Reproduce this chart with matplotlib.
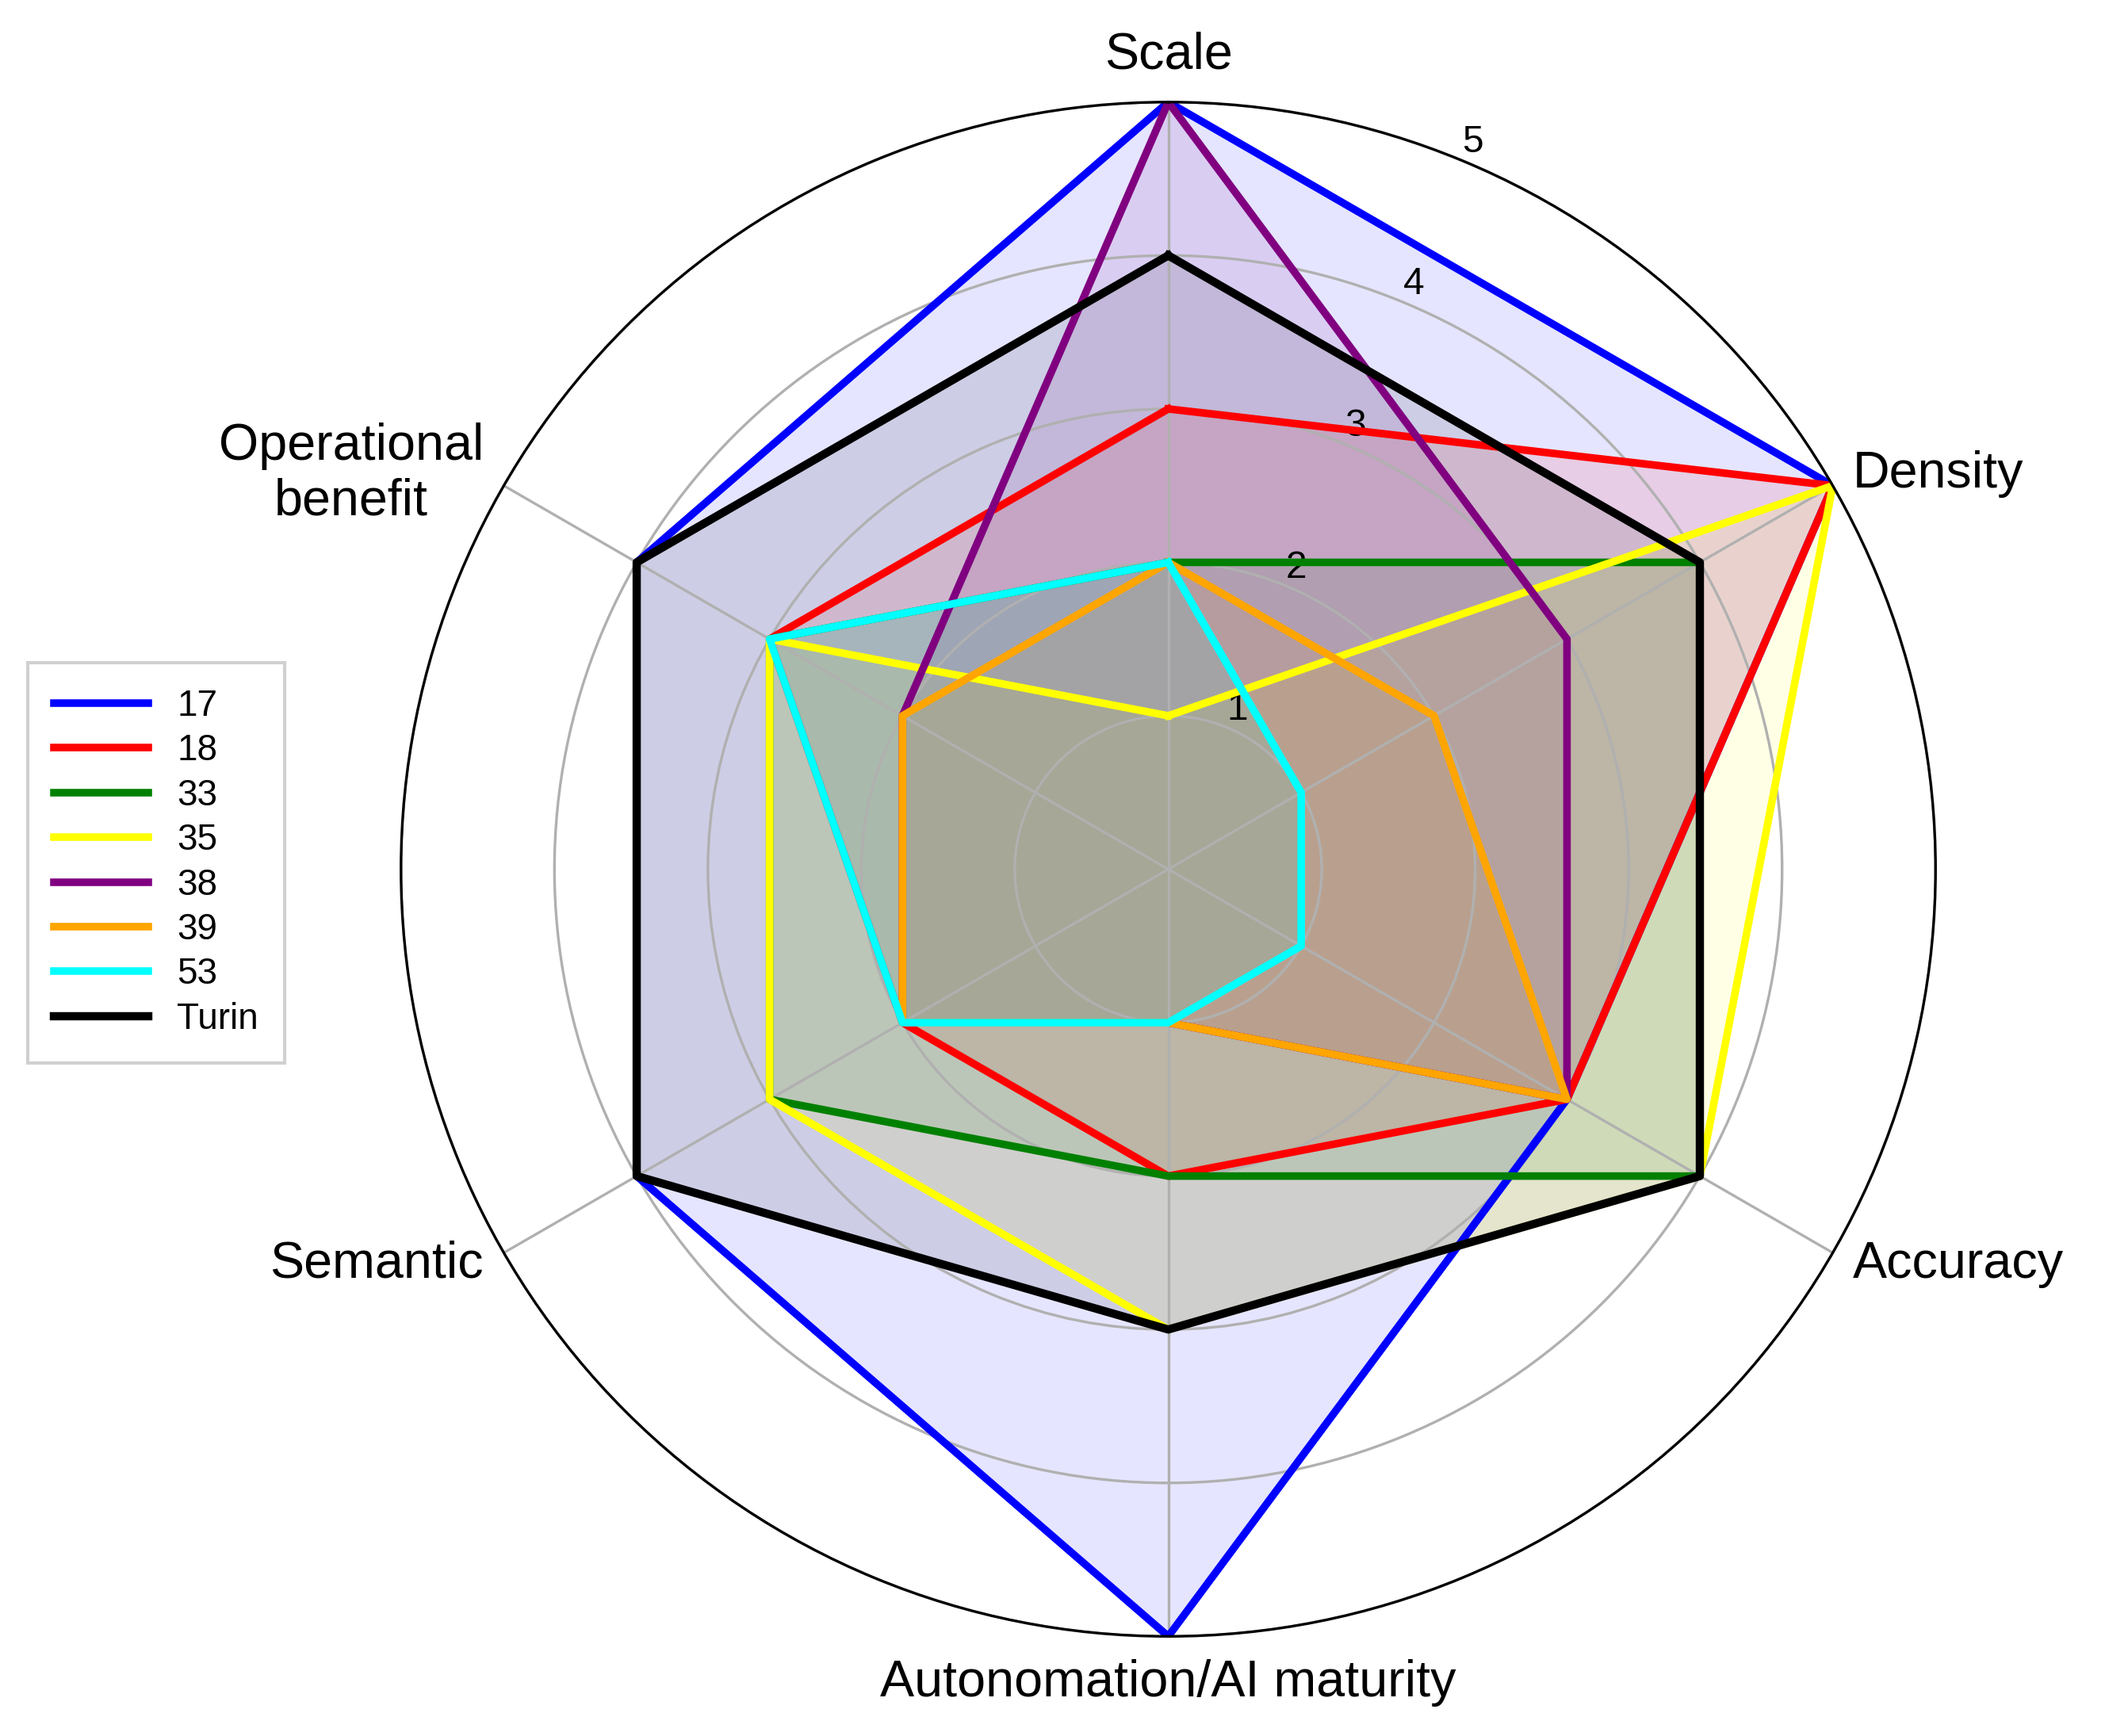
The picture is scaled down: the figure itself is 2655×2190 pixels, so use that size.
import numpy as np
import matplotlib.pyplot as plt

plt.rcParams['font.family'] = ['Liberation Sans', 'DejaVu Sans']

# axes of the radar, clockwise from the top
CATEGORIES = ['Scale', 'Density', 'Accuracy', 'Autonomation/AI maturity',
              'Semantic', 'Operational\nbenefit']

NAMES = ['17', '18', '33', '35', '38', '39', '53', 'Turin']
COLORS = ['blue', 'red', 'green', 'yellow', 'purple', 'orange', 'cyan', 'black']

# scores per case (same order as CATEGORIES)
s17 = [5, 5, 3, 5, 4, 4]
s18 = [3, 5, 3, 2, 2, 3]
s33 = [2, 4, 4, 2, 3, 3]
s35 = [1, 5, 4, 3, 3, 3]
s38 = [5, 3, 3, 1, 2, 2]
s39 = [2, 2, 3, 1, 2, 2]
s53 = [2, 1, 1, 1, 2, 3]
turin = [4, 4, 4, 3, 4, 4]

RTICKS = [1, 2, 3, 4, 5]

series = [s17, s18, s33, s35, s38, s39, s53, turin]

angles = np.linspace(0, 2 * np.pi, len(CATEGORIES), endpoint=False)
closed = np.concatenate([angles, angles[:1]])

fig = plt.figure(figsize=(8.85, 7.3), dpi=300)
ax = fig.add_axes([0.1903, 0.0574, 0.7294, 0.8838], polar=True)
ax.set_theta_offset(np.pi / 2)
ax.set_theta_direction(-1)

for vals, name, col in zip(series, NAMES, COLORS):
    v = np.concatenate([vals, vals[:1]])
    ax.plot(closed, v, color=col, lw=2.5 if name == 'Turin' else 2.3, label=name)
    ax.fill(closed, v, color=col, alpha=0.1)

ax.set_ylim(0, 5)
ax.set_yticks(RTICKS)
ax.set_yticklabels([str(t) for t in RTICKS], fontsize=11.5)
ax.set_rlabel_position(22.5)

lines, labels = ax.set_thetagrids(np.degrees(angles), CATEGORIES, fontsize=15.5)
for lab, a in zip(labels, np.degrees(angles)):
    if a == 0:
        lab.set_ha('center'); lab.set_va('bottom')
    elif a == 180:
        lab.set_ha('center'); lab.set_va('top')
    elif a < 180:
        lab.set_ha('left'); lab.set_va('center')
    else:
        lab.set_ha('right'); lab.set_va('center')
    lab.set_multialignment('center')
ax.tick_params(axis='x', pad=-3.5)

fig.legend(loc='center left', bbox_to_anchor=(0.013, 0.503), borderaxespad=0,
           fontsize=11, handlelength=2.6, handletextpad=0.8, labelspacing=0.27,
           borderpad=0.72, fancybox=False, edgecolor='#d0d0d0', framealpha=1)

plt.savefig('out.png', dpi=300)
